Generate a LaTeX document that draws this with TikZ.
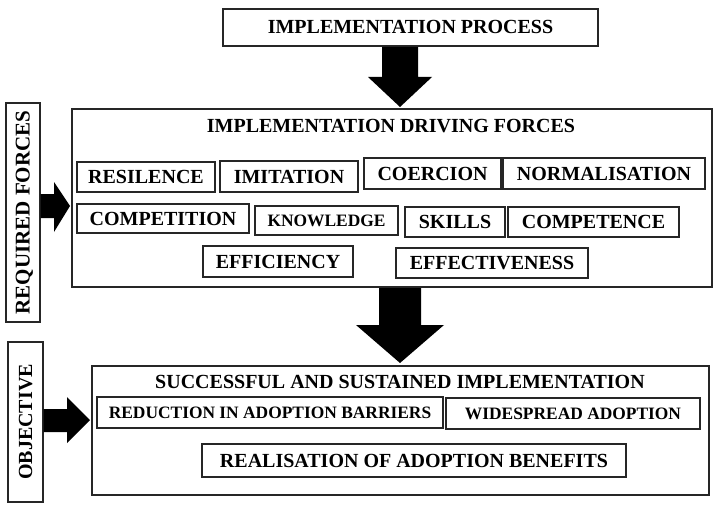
\documentclass[tikz,border=0pt]{standalone}
\usepackage{fontspec}
\setmainfont{Liberation Serif}
\usetikzlibrary{calc}
\tikzset{
  box/.style={draw=black!85, line width=1.1pt, inner sep=0pt, align=center,
    font=\bfseries\fontsize{20}{20}\selectfont, text height=13pt, text depth=0pt},
  smallbox/.style={box, font=\bfseries\fontsize{17.4}{17.4}\selectfont, text height=11.3pt},
  frame/.style={draw=black!85, line width=1.1pt, inner sep=0pt},
  ttl/.style={inner sep=0pt, font=\bfseries\fontsize{20}{20}\selectfont, text height=13pt, text depth=0pt},
  blk/.style={fill=black},
}
\begin{document}
\begin{tikzpicture}[x=1pt,y=-1pt]
\useasboundingbox (0,0) rectangle (720,508);
% top
\node[box, minimum width=375pt, minimum height=37pt] (proc) at (410.5,27.5) {IMPLEMENTATION PROCESS};
% driving forces frame
\node[frame, minimum width=640pt, minimum height=178pt] (drive) at (392,198) {};
\node[ttl] (drivettl) at (391,126) {IMPLEMENTATION DRIVING FORCES};
\node[box, minimum width=138pt, minimum height=30pt] (resil) at (146,177) {RESILENCE};
\node[box, minimum width=138pt, minimum height=31pt] (imit) at (289,176.5) {IMITATION};
\node[box, minimum width=137pt, minimum height=31pt] (coer) at (432.5,173.5) {COERCION};
\node[box, minimum width=202pt, minimum height=31pt] (norm) at (604,173.5) {NORMALISATION};
\node[box, minimum width=172pt, minimum height=29pt] (compet) at (163,218.5) {COMPETITION};
\node[smallbox, minimum width=143pt, minimum height=29pt] (know) at (326.5,220.5) {KNOWLEDGE};
\node[box, minimum width=100pt, minimum height=30pt] (skills) at (455,222) {SKILLS};
\node[box, minimum width=171pt, minimum height=30pt] (compe) at (593.5,222) {COMPETENCE};
\node[box, minimum width=150pt, minimum height=31pt] (effic) at (278,261.5) {EFFICIENCY};
\node[box, minimum width=192pt, minimum height=30pt] (effect) at (492,263) {EFFECTIVENESS};
% left labels
\node[box, rotate=90, minimum width=219pt, minimum height=34pt, font=\bfseries\fontsize{21}{21}\selectfont] (req) at (23,212.5) {REQUIRED FORCES};
\node[box, rotate=90, minimum width=160pt, minimum height=35pt] (obj) at (25.5,422) {OBJECTIVE};
% objective frame
\node[frame, minimum width=617pt, minimum height=129pt] (succ) at (400.5,430.5) {};
\node[ttl] (succttl) at (400,382) {SUCCESSFUL AND SUSTAINED IMPLEMENTATION};
\node[smallbox, minimum width=346pt, minimum height=31pt] (redu) at (270,412.5) {REDUCTION IN ADOPTION BARRIERS};
\node[smallbox, minimum width=254pt, minimum height=31pt] (wide) at (573,413.5) {WIDESPREAD ADOPTION};
\node[box, minimum width=424pt, minimum height=33pt] (real) at (414,460.5) {REALISATION OF ADOPTION BENEFITS};
% block arrows
\coordinate (a1s) at (400,47);
\coordinate (a1t) at (400,107);
\fill[blk] ($(a1s)+(-18,0)$) -- ($(a1s)+(18,0)$) -- ($(a1t)+(18,-30)$) -- ($(a1t)+(32,-30)$)
  -- (a1t) -- ($(a1t)+(-32,-30)$) -- ($(a1t)+(-18,-30)$) -- cycle;
\coordinate (a2s) at (400,288);
\coordinate (a2t) at (400,363);
\fill[blk] ($(a2s)+(-21,0)$) -- ($(a2s)+(21,0)$) -- ($(a2t)+(21,-38)$) -- ($(a2t)+(44,-38)$)
  -- (a2t) -- ($(a2t)+(-44,-38)$) -- ($(a2t)+(-21,-38)$) -- cycle;
\coordinate (a3s) at (40.5,206);
\coordinate (a3t) at (70,206);
\fill[blk] ($(a3s)+(0,-12)$) -- ($(a3t)+(-16,-12)$) -- ($(a3t)+(-16,-24)$) -- (a3t)
  -- ($(a3t)+(-16,26)$) -- ($(a3t)+(-16,12)$) -- ($(a3s)+(0,12)$) -- cycle;
\coordinate (a4s) at (43.5,420);
\coordinate (a4t) at (90,420);
\fill[blk] ($(a4s)+(0,-11)$) -- ($(a4t)+(-23,-11)$) -- ($(a4t)+(-23,-23)$) -- (a4t)
  -- ($(a4t)+(-23,23)$) -- ($(a4t)+(-23,12)$) -- ($(a4s)+(0,12)$) -- cycle;
\end{tikzpicture}
\end{document}
